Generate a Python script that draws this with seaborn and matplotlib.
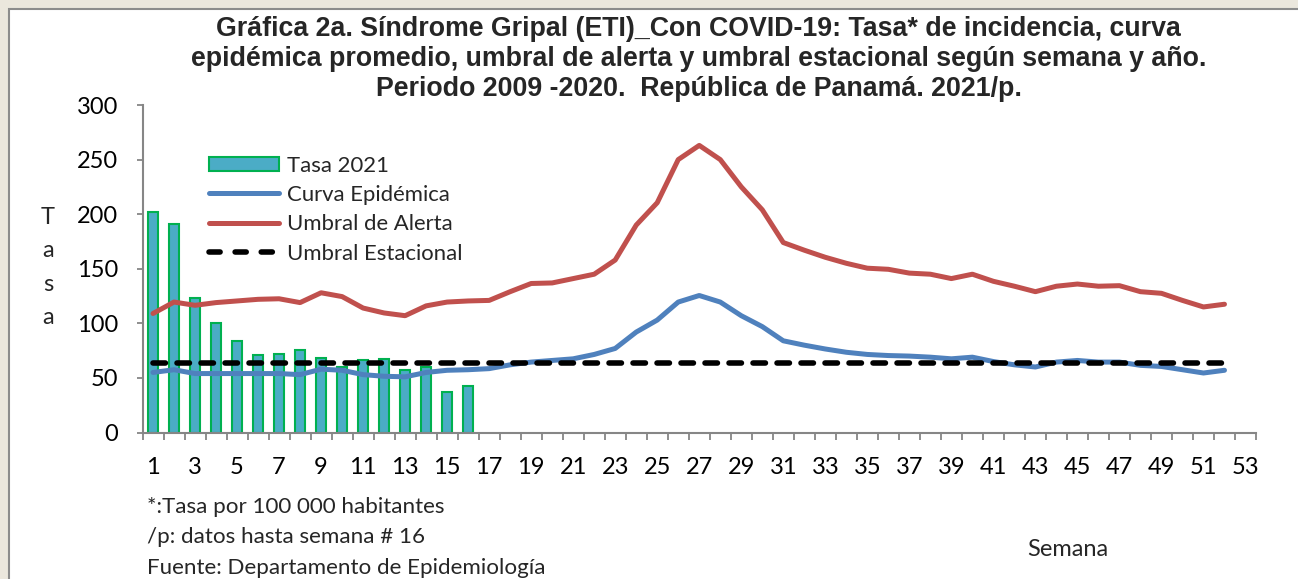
import matplotlib
matplotlib.use("Agg")
import matplotlib.pyplot as plt
from matplotlib.patches import Patch, Rectangle
from matplotlib.lines import Line2D
import numpy as np
import pandas as pd
import seaborn as sns

# weekly data
semanas = list(range(1, 53))
semanas_2021 = list(range(1, 17))
tasa_2021 = [202, 191, 123, 100, 84, 71, 72, 76, 68, 60, 66, 67, 57, 60, 37, 43]
curva_epidemica = [55, 57.5, 54, 54, 54, 54, 54, 53, 58, 57, 53, 51.5, 51, 55, 57, 57.5,
                   58.5, 62, 64.5, 66, 67.5, 71.5, 77, 92, 103, 119.5, 125.5, 119.5, 107, 97,
                   84, 80, 76.5, 73.5, 71.5, 70.5, 70, 69, 67.5, 69, 65, 62, 60, 64.5, 66,
                   64.5, 64.5, 61.5, 60.5, 57.5, 54.5, 57]
umbral_alerta = [109, 119.5, 116.5, 119, 120.5, 122, 122.5, 119, 128, 124.5, 114, 109.5, 107,
                 116, 119.5, 120.5, 121, 129, 136.5, 137, 141, 145, 158, 190, 210.5, 250, 263,
                 250, 225, 204, 174, 167, 160.5, 155, 150.5, 149.5, 146, 145, 141, 145, 138.5,
                 134, 129, 134, 136, 134, 134.5, 129, 127.5, 121, 115, 117.5]
umbral_estacional = 63.5
etiquetas_x = list(range(1, 54, 2))
etiquetas_y = [0, 50, 100, 150, 200, 250, 300]

W, H = 1298, 579
GRIS = "#868686"

sns.set_theme(style="white")
plt.rcParams["font.family"] = ["Lato", "DejaVu Sans"]

fig = plt.figure(figsize=(W / 100, H / 100), dpi=100)
fig.patch.set_facecolor("#EBE7DD")
fig.patches.append(Rectangle((9 / W, -0.1), 1.2, 1.1 - 9 / H, transform=fig.transFigure,
                             facecolor="white", edgecolor="#8C8C8C", lw=1.5, zorder=-1))

ax = fig.add_axes([142.5 / W, 1 - 432.5 / H, (1256 - 142.5) / W, 327.5 / H])
ax.set_facecolor("none")

df_barras = pd.DataFrame({"semana": semanas_2021, "tasa": tasa_2021})
sns.barplot(data=df_barras, x="semana", y="tasa", native_scale=True, width=0.45,
            color="#4BACC6", saturation=1, edgecolor="#00B050", linewidth=1.5, ax=ax, zorder=2)

df_lineas = pd.DataFrame({"semana": semanas, "curva": curva_epidemica, "alerta": umbral_alerta})
sns.lineplot(data=df_lineas, x="semana", y="curva", color="#4F81BD", lw=3.6, ax=ax, zorder=3)
sns.lineplot(data=df_lineas, x="semana", y="alerta", color="#C0504D", lw=3.6, ax=ax, zorder=3)
sns.lineplot(x=[semanas[0], semanas[-1]], y=[umbral_estacional, umbral_estacional],
             color="black", lw=4, dashes=False, ax=ax, zorder=4)
ax.lines[-1].set_dashes((2.24, 2.08))
ax.lines[-1].set_dash_capstyle("round")

ax.set_xlim(0.5, 53.5)
ax.set_ylim(0, 300)
ax.set_xticks(etiquetas_x)
ax.set_xticks(np.arange(0.5, 54, 1), minor=True)
ax.set_yticks(etiquetas_y)
ax.tick_params(axis="x", which="major", length=0, pad=17.5, labelsize=17, labelcolor="black")
ax.tick_params(axis="x", which="minor", length=5, width=1.3, color=GRIS, direction="out", bottom=True)
ax.tick_params(axis="y", length=4, width=1.3, color=GRIS, direction="out", left=True,
               pad=13.5, labelsize=17, labelcolor="black")
ax.set_xlabel("")
ax.set_ylabel("")
for s in ["top", "right"]:
    ax.spines[s].set_visible(False)
for s in ["left", "bottom"]:
    ax.spines[s].set_color(GRIS)
    ax.spines[s].set_linewidth(1.5)

handles = [
    Patch(facecolor="#4BACC6", edgecolor="#00B050", lw=1.5),
    Line2D([], [], color="#4F81BD", lw=3.6, solid_capstyle="round"),
    Line2D([], [], color="#C0504D", lw=3.6, solid_capstyle="round"),
    Line2D([], [], color="black", lw=4, dashes=(2.0, 2.7), dash_capstyle="round"),
]
labels = ["Tasa 2021", "Curva Epidémica", "Umbral de Alerta", "Umbral Estacional"]
ax.legend(handles, labels, loc="upper left", bbox_to_anchor=(0.0597, 0.845), frameon=False,
          fontsize=15.9, handlelength=3.18, handleheight=0.65, handletextpad=0.36,
          labelspacing=0.42, borderaxespad=0, borderpad=0)

titulo = ["Gráfica 2a. Síndrome Gripal (ETI)_Con COVID-19: Tasa* de incidencia, curva",
          "epidémica promedio, umbral de alerta y umbral estacional según semana y año.",
          "Periodo 2009 -2020.  República de Panamá. 2021/p."]
for linea, base in zip(titulo, [36, 66, 96]):
    fig.text(698.5 / W, 1 - base / H, linea, ha="center", va="baseline", fontsize=19.3,
             fontweight="bold", family=["Liberation Sans", "DejaVu Sans"])

fig.text(48 / W, 1 - 267.5 / H, "T\na\ns\na", ha="center", va="center", fontsize=17,
         linespacing=1.73)

notas = ["*:Tasa por 100 000 habitantes", "/p: datos hasta semana # 16",
         "Fuente: Departamento de Epidemiología"]
for nota, base in zip(notas, [513, 543, 574]):
    fig.text(147 / W, 1 - base / H, nota, ha="left", va="baseline", fontsize=16.1)
fig.text(1068 / W, 1 - 556 / H, "Semana", ha="center", va="baseline", fontsize=17)

fig.savefig("out.png", dpi=100, facecolor=fig.get_facecolor())
